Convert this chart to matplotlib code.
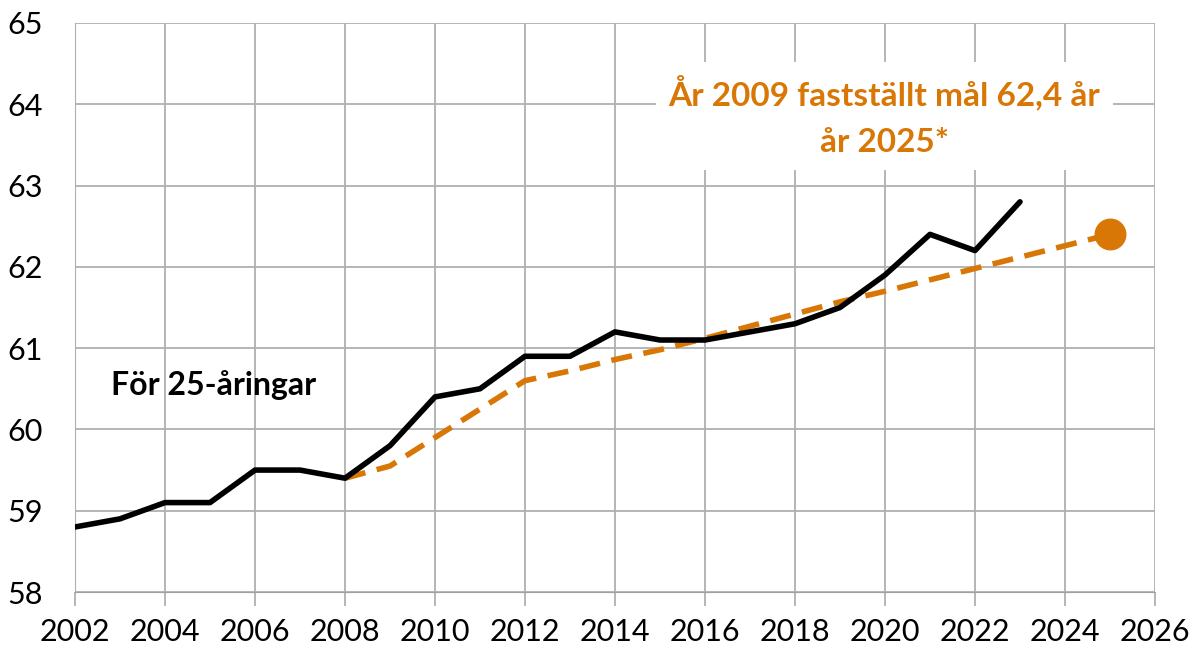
import matplotlib
matplotlib.use("Agg")
import matplotlib.pyplot as plt

years = list(range(2002, 2024))
values = [58.8, 58.9, 59.1, 59.1, 59.5, 59.5, 59.4, 59.8, 60.4, 60.5, 60.9, 60.9,
          61.2, 61.1, 61.1, 61.2, 61.3, 61.5, 61.9, 62.4, 62.2, 62.8]
target_years = list(range(2008, 2026))
target_values = [59.4, 59.55, 59.9, 60.25, 60.6, 60.72, 60.86, 60.98, 61.12, 61.27,
                 61.42, 61.57, 61.7, 61.84, 61.98, 62.12, 62.26, 62.4]
goal_year = [2025]
goal_value = [62.4]
xticks = list(range(2002, 2027, 2))
yticks = list(range(58, 66))

orange = "#D97706"
plt.rcParams['font.family'] = ['Lato', 'DejaVu Sans']

fig = plt.figure(figsize=(12.03, 6.46), dpi=100)
ax = fig.add_axes([75/1203, 1 - 592/646, (1155-75)/1203, (592-23)/646])

ax.plot(target_years, target_values, color=orange, lw=4.0, dashes=(3.8, 2.1), zorder=3)
ax.plot(goal_year, goal_value, 'o', color=orange, markersize=22, zorder=4)
ax.plot(years, values, color='black', lw=4.0, solid_capstyle='round', zorder=5)

ax.set_xlim(2002, 2026)
ax.set_ylim(58, 65)
ax.set_xticks(xticks)
ax.set_yticks(yticks)
ax.grid(True, color='#b0b0b0', lw=1.3)
ax.set_axisbelow(True)
for s in ax.spines.values():
    s.set_visible(False)
ax.spines['left'].set_visible(True)
ax.spines['left'].set_color('#b0b0b0')
ax.spines['bottom'].set_visible(True)
ax.spines['bottom'].set_color('#a0a0a0')
ax.tick_params(axis='x', length=10, color='#b0b0b0', width=1.3, labelsize=22, pad=9)
ax.tick_params(axis='y', length=0, labelsize=22, pad=23)

ax.text(2019.98, 63.86, "År 2009 fastställt mål 62,4 år\når 2025*", color=orange,
        fontsize=24, fontweight='bold', ha='center', va='center', linespacing=1.75,
        bbox=dict(facecolor='white', edgecolor='none', pad=9), zorder=6)
ax.text(2002.8, 60.55, "För 25-åringar", color='black', fontsize=23,
        fontweight='bold', ha='left', va='center', zorder=6)

fig.savefig("out.png", dpi=100)
